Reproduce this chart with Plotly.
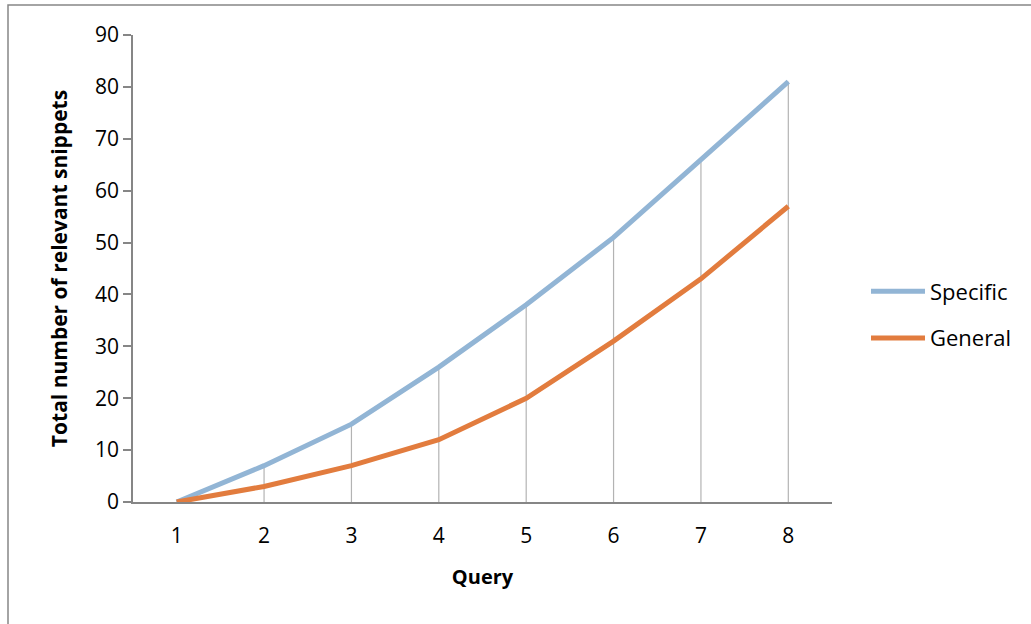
import plotly.graph_objects as go

queries = [1, 2, 3, 4, 5, 6, 7, 8]
specific = [0, 7, 15, 26, 38, 51, 66, 81]
general = [0, 3, 7, 12, 20, 31, 43, 57]
y_ticks = [0, 10, 20, 30, 40, 50, 60, 70, 80, 90]

FONT = "Open Sans"
AXIS_GRAY = "#868686"

# drop lines from the highest point down to the axis
drop_x, drop_y = [], []
for q, s, g in zip(queries, specific, general):
    drop_x += [q, q, None]
    drop_y += [0, max(s, g), None]

fig = go.Figure()
fig.add_trace(go.Scatter(x=drop_x, y=drop_y, mode="lines",
                         line=dict(color="#B3B3B3", width=1.2),
                         showlegend=False, hoverinfo="skip"))
fig.add_trace(go.Scatter(x=queries, y=specific, mode="lines", name="Specific",
                         legendgroup="a",
                         line=dict(color="#92B5D5", width=5)))
fig.add_trace(go.Scatter(x=queries, y=general, mode="lines", name="General",
                         legendgroup="b",
                         line=dict(color="#E27C3E", width=5)))

L, R, T, B = 133, 199, 35, 122
W, H = 1031, 624
pw, ph = W - L - R, H - T - B

def px_x(p):
    return (p - L) / pw

def px_y(p):
    return (H - B - p) / ph

fig.update_layout(
    width=W, height=H,
    margin=dict(l=L, r=R, t=T, b=B),
    plot_bgcolor="white", paper_bgcolor="white",
    font=dict(family=FONT, size=21, color="black"),
    showlegend=True,
    legend=dict(x=px_x(866), y=px_y(315), xanchor="left", yanchor="middle",
                font=dict(family=FONT, size=22, color="black"),
                traceorder="grouped", tracegroupgap=15, itemwidth=54,
                bgcolor="rgba(0,0,0,0)"),
    xaxis=dict(range=[0.5, 8.5], tickmode="array", tickvals=queries,
               ticktext=[str(q) for q in queries],
               showgrid=False, zeroline=False, showline=True,
               linecolor=AXIS_GRAY, linewidth=1.5, ticks="",
               ticklabelstandoff=14,
               title=dict(text="<b>Query</b>", font=dict(family=FONT, size=20), standoff=22)),
    yaxis=dict(range=[0, 90], tickmode="array", tickvals=y_ticks,
               showgrid=False, zeroline=False, showline=True,
               linecolor=AXIS_GRAY, linewidth=1.5, ticks="outside",
               ticklen=8, tickcolor=AXIS_GRAY, tickwidth=1.5,
               title=dict(text="<b>Total number of relevant snippets</b>",
                          font=dict(family=FONT, size=21), standoff=22)),
    shapes=[dict(type="rect", xref="paper", yref="paper",
                 x0=px_x(8), x1=px_x(1040), y0=px_y(640), y1=px_y(5),
                 line=dict(color="#868686", width=1.5), fillcolor="rgba(0,0,0,0)",
                 layer="below")],
)

fig.write_html("out.html", config={"displayModeBar": False},
               post_script="document.body.style.margin='0';")
